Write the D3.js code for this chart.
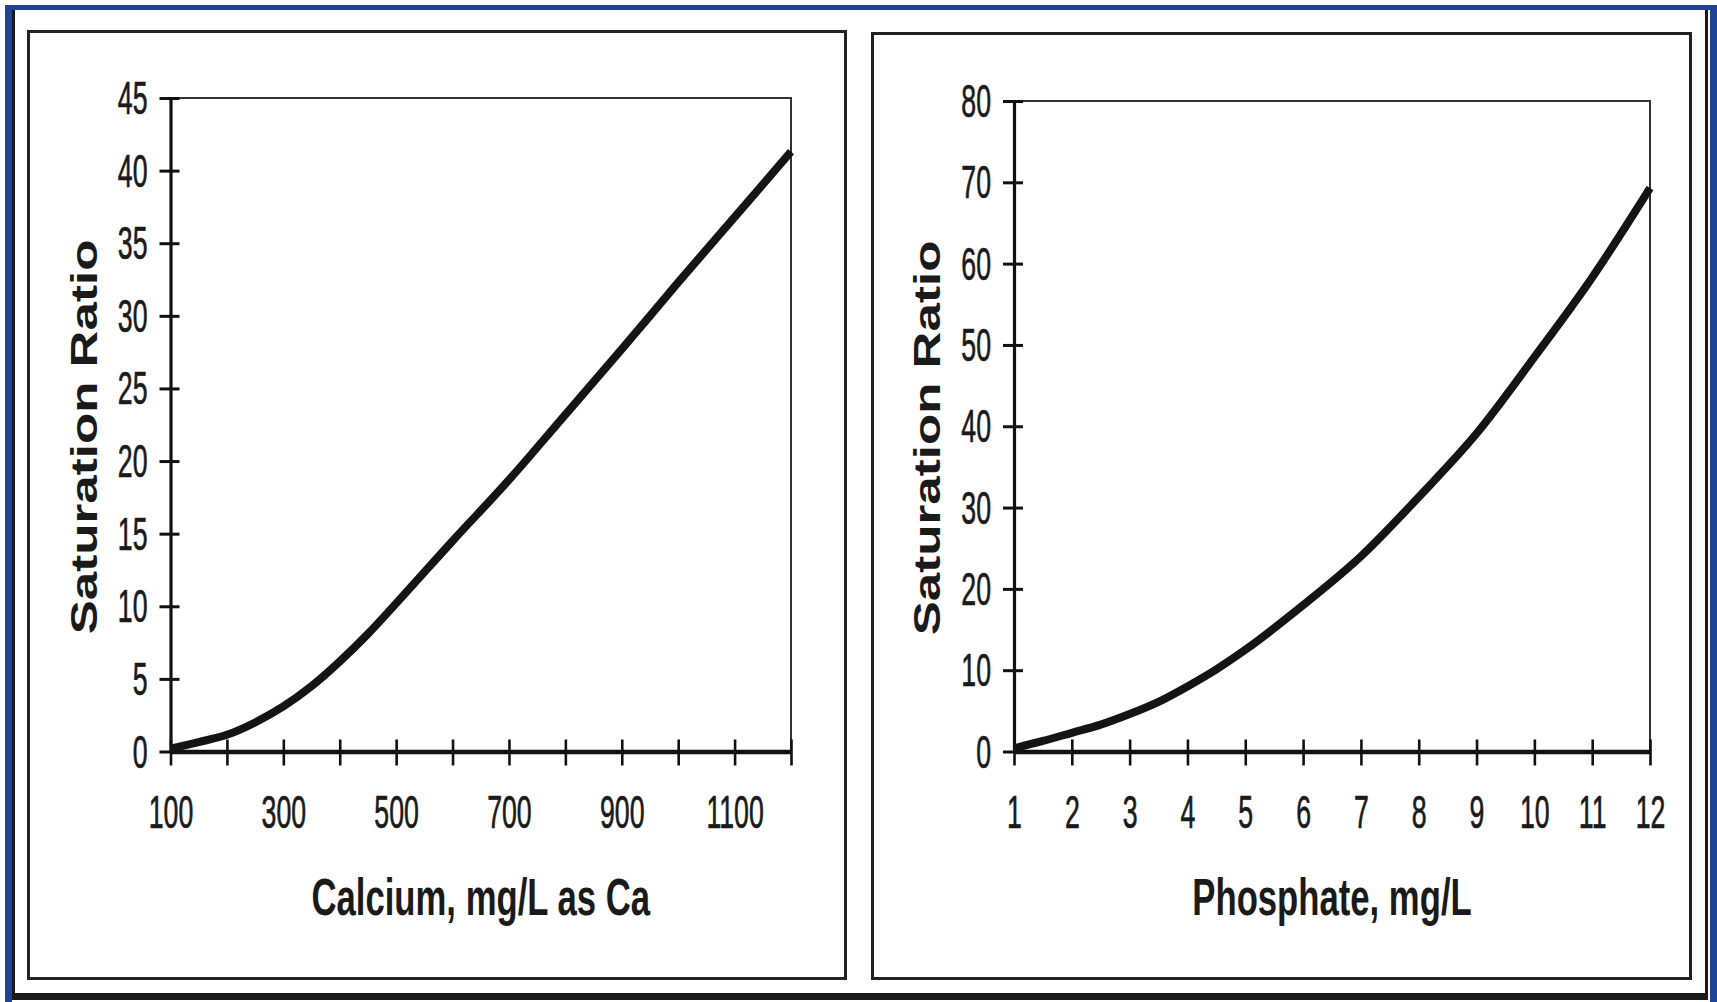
<!DOCTYPE html>
<html>
<head>
<meta charset="utf-8">
<script src="https://cdn.jsdelivr.net/npm/d3@7"></script>
<style>
  html, body { margin: 0; padding: 0; background: #fff; }
  svg { display: block; }
  text { font-family: "Liberation Sans", Arial, sans-serif; fill: #1a1a1a; }
</style>
</head>
<body>
<svg id="chart" width="1717" height="1002"></svg>
<script>
// Saturation ratio vs calcium concentration
const calciumX = [100, 150, 200, 250, 300, 350, 400, 450, 500, 600, 700, 800, 900, 1000, 1100, 1200];
const calciumRatio = [0.2, 0.65, 1.15, 2.0, 3.1, 4.5, 6.2, 8.1, 10.2, 14.5, 18.7, 23.2, 27.7, 32.3, 36.8, 41.3];
const calciumTicks = [100, 200, 300, 400, 500, 600, 700, 800, 900, 1000, 1100, 1200];
const calciumLabels = [100, 300, 500, 700, 900, 1100];
const calciumYTicks = [0, 5, 10, 15, 20, 25, 30, 35, 40, 45];

// Saturation ratio vs phosphate concentration
const phosphateX = [1, 1.5, 2, 2.5, 3, 3.5, 4, 4.5, 5, 6, 7, 8, 9, 10, 11, 12];
const phosphateRatio = [0.4, 1.3, 2.3, 3.3, 4.6, 6.1, 8.0, 10.1, 12.5, 18.0, 24.0, 31.3, 39.1, 48.5, 58.3, 69.3];
const phosphateTicks = [1, 2, 3, 4, 5, 6, 7, 8, 9, 10, 11, 12];
const phosphateLabels = phosphateTicks;
const phosphateYTicks = [0, 10, 20, 30, 40, 50, 60, 70, 80];

const yTitle = "Saturation Ratio";

const svg = d3.select("#chart");
svg.append("rect").attr("width", 1717).attr("height", 1002).attr("fill", "#fff");

// Outer frame: blue band with a dark inner edge
const blue = "#1f4396";
svg.append("rect").attr("x", 5).attr("y", 5).attr("width", 1712).attr("height", 5).attr("fill", blue);
svg.append("rect").attr("x", 5).attr("y", 5).attr("width", 7).attr("height", 997).attr("fill", blue);
svg.append("rect").attr("x", 1710).attr("y", 5).attr("width", 7).attr("height", 997).attr("fill", blue);
svg.append("rect").attr("x", 12).attr("y", 10).attr("width", 3).attr("height", 990).attr("fill", "#1a1a1a");
svg.append("rect").attr("x", 1705).attr("y", 10).attr("width", 3).attr("height", 990).attr("fill", "#1a1a1a");
svg.append("rect").attr("x", 12).attr("y", 993).attr("width", 1696).attr("height", 7).attr("fill", "#1a1a1a");

const TICK_SX = 0.58;   // narrow tick-label face
const TITLE_SX = 0.68;  // condensed bold titles

function drawPanel(cfg) {
  // panel box
  svg.append("rect")
    .attr("x", cfg.box[0]).attr("y", cfg.box[1])
    .attr("width", cfg.box[2]).attr("height", cfg.box[3])
    .attr("fill", "none").attr("stroke", "#222").attr("stroke-width", 3);

  const x = d3.scaleLinear().domain(cfg.xDomain).range([cfg.left, cfg.right]);
  const y = d3.scaleLinear().domain(cfg.yDomain).range([cfg.bottom, cfg.top]);

  // plot frame (top and right)
  svg.append("path")
    .attr("d", `M${cfg.left - 10},${cfg.top}H${cfg.right}V${cfg.bottom}`)
    .attr("fill", "none").attr("stroke", "#333").attr("stroke-width", 2);

  // y axis
  const gy = svg.append("g")
    .attr("transform", `translate(${cfg.left},0)`)
    .call(d3.axisLeft(y).tickValues(cfg.yTicks).tickSize(0).tickPadding(0));
  gy.select(".domain").attr("stroke", "#111").attr("stroke-width", 3.2);
  gy.selectAll(".tick line")
    .attr("x1", -11).attr("x2", 9)
    .attr("stroke", "#111").attr("stroke-width", 3);
  gy.selectAll(".tick text")
    .attr("x", -23 / TICK_SX).attr("dy", null).attr("y", 15.5)
    .attr("transform", `scale(${TICK_SX},1)`)
    .attr("font-size", 46).attr("font-family", "'Liberation Sans', Arial, sans-serif")
    .attr("fill", "#1a1a1a").attr("stroke", "#1a1a1a").attr("stroke-width", 0.7)
    .attr("text-anchor", "end");

  // x axis
  const gx = svg.append("g")
    .attr("transform", `translate(0,${cfg.bottom})`)
    .call(d3.axisBottom(x).tickValues(cfg.xTicks).tickSize(0).tickPadding(0)
      .tickFormat(d => cfg.xLabels.includes(d) ? String(d) : ""));
  gx.select(".domain").attr("stroke", "#111").attr("stroke-width", 4.5);
  gx.selectAll(".tick line")
    .attr("y1", -12).attr("y2", 14)
    .attr("stroke", "#111").attr("stroke-width", 2.6);
  gx.selectAll(".tick text")
    .attr("dy", null).attr("y", 77)
    .attr("transform", `scale(${TICK_SX},1)`)
    .attr("font-size", 46).attr("font-family", "'Liberation Sans', Arial, sans-serif")
    .attr("fill", "#1a1a1a").attr("stroke", "#1a1a1a").attr("stroke-width", 0.7)
    .attr("text-anchor", "middle");
  // move each tick's offset onto its line and (squeezed) label
  gx.selectAll(".tick").each(function () {
    const g = d3.select(this);
    const tx = +g.attr("transform").match(/translate\(([-\d.]+)/)[1];
    g.attr("transform", "translate(0,0)");
    g.select("line").attr("x1", tx).attr("x2", tx);
    g.select("text").attr("x", tx / TICK_SX);
  });

  // curve
  const line = d3.line()
    .x((d, i) => x(cfg.xs[i]))
    .y(d => y(d))
    .curve(d3.curveMonotoneX);
  svg.append("path")
    .datum(cfg.ys)
    .attr("d", line)
    .attr("fill", "none")
    .attr("stroke", "#141414")
    .attr("stroke-width", 8)
    .attr("stroke-linejoin", "round");

  // x title
  const cx = (cfg.left + cfg.right) / 2;
  svg.append("text")
    .attr("transform", `translate(${cx},${cfg.xTitleY}) scale(${TITLE_SX},1)`)
    .attr("text-anchor", "middle")
    .attr("font-size", 51).attr("font-weight", "bold")
    .text(cfg.xTitle);

  // y title (rotated)
  svg.append("text")
    .attr("transform", `translate(${cfg.yTitleX},${cfg.yTitleCY}) rotate(-90) scale(1.42,1)`)
    .attr("text-anchor", "middle")
    .attr("font-size", 36).attr("font-weight", "bold")
    .text(yTitle);
}

drawPanel({
  box: [28.5, 31.5, 817, 947],
  left: 170.5, right: 791, top: 98, bottom: 751.5,
  xDomain: [100, 1200], yDomain: [0, 45],
  xTicks: calciumTicks, xLabels: calciumLabels, yTicks: calciumYTicks,
  xs: calciumX, ys: calciumRatio,
  xTitle: "Calcium, mg/L as Ca", xTitleY: 915,
  yTitleX: 97, yTitleCY: 437
});

drawPanel({
  box: [872.5, 33.5, 818, 945],
  left: 1014, right: 1650, top: 101, bottom: 751.5,
  xDomain: [1, 12], yDomain: [0, 80],
  xTicks: phosphateTicks, xLabels: phosphateLabels, yTicks: phosphateYTicks,
  xs: phosphateX, ys: phosphateRatio,
  xTitle: "Phosphate, mg/L", xTitleY: 915,
  yTitleX: 940, yTitleCY: 438
});
</script>
</body>
</html>
